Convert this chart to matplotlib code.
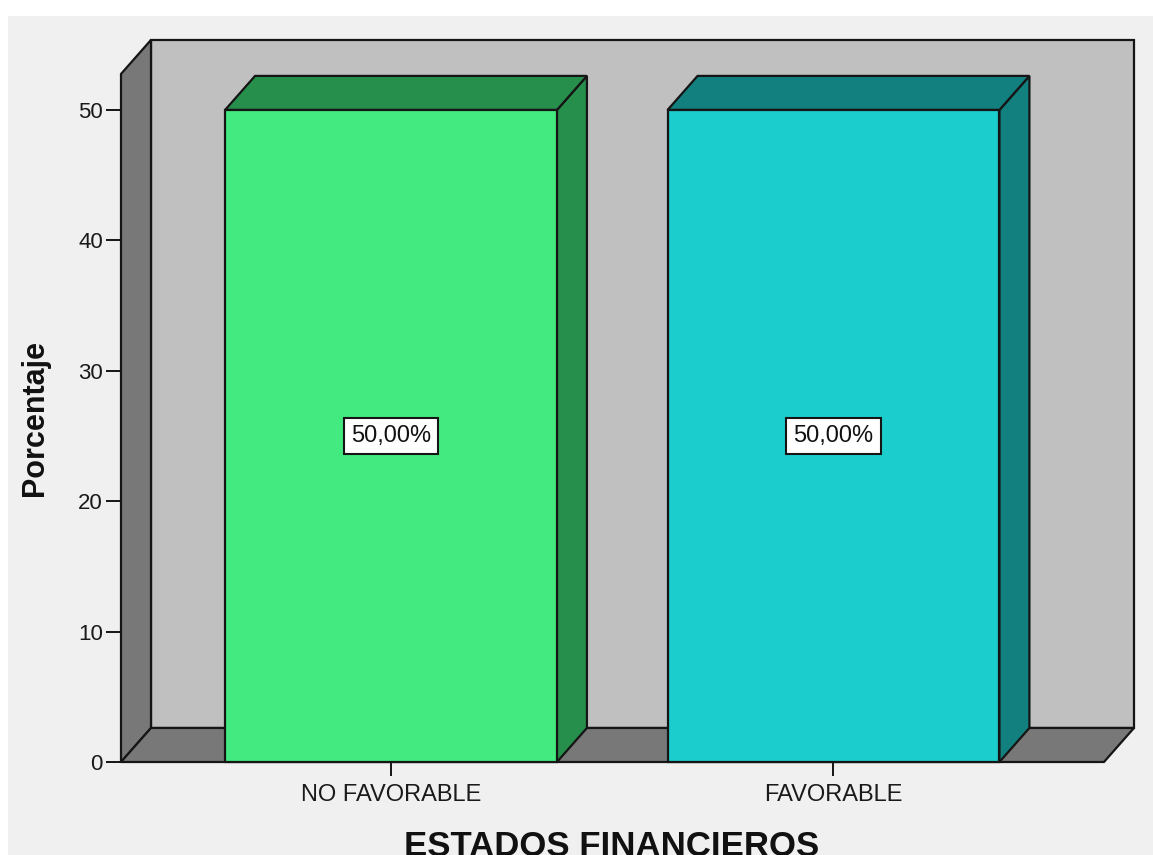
import matplotlib
matplotlib.use("Agg")
import matplotlib.pyplot as plt
from matplotlib.patches import Polygon, Rectangle

# ---- data ----
categories = ["NO FAVORABLE", "FAVORABLE"]
percentages = [50.0, 50.0]
value_labels = ["50,00%", "50,00%"]
yticks = [0, 10, 20, 30, 40, 50]
front_colors = ["#42ea7f", "#1ccdcd"]
dark_colors = ["#268f4c", "#138080"]
xlabel = "ESTADOS FINANCIEROS"
ylabel = "Porcentaje"

plt.rcParams["font.family"] = ["Liberation Sans", "DejaVu Sans"]

W, H = 1153, 855
fig = plt.figure(figsize=(W / 100, H / 100), dpi=100, facecolor="white")
# light gray panel background
fig.patches.append(Rectangle((8 / W, 0), 1 - 8 / W, 1 - 16 / H, transform=fig.transFigure,
                             facecolor="#f0f0f0", edgecolor="none", zorder=-10))

ax = fig.add_axes([121 / W, (H - 762) / H, (1140 - 121) / W, (762 - 36) / H])
ax.set_zorder(5)
ax.set_facecolor("none")
for s in ax.spines.values():
    s.set_visible(False)

xl, xr = -0.6102, 1.6113
ax.set_xlim(xl, 1.6927)
ax.set_ylim(0, 55.67)
dx, dy = 30 / 442.5, 2.61
ytop = 55.37
bw = 0.75
ec = "#151515"
lw = 1.6

# back wall
ax.add_patch(Rectangle((xl + dx, dy), xr - xl, ytop - dy, facecolor="#c0c0c0",
                       edgecolor=ec, lw=lw, clip_on=False, zorder=1))
# left wall
ax.add_patch(Polygon([(xl, 0), (xl + dx, dy), (xl + dx, ytop), (xl, ytop - dy)],
                     closed=True, facecolor="#787878", edgecolor=ec, lw=lw, clip_on=False, zorder=2))
# floor
ax.add_patch(Polygon([(xl, 0), (xr, 0), (xr + dx, dy), (xl + dx, dy)],
                     closed=True, facecolor="#787878", edgecolor=ec, lw=lw, clip_on=False, zorder=2))

xs = list(range(len(categories)))
for x, v, fc, dc, lab in zip(xs, percentages, front_colors, dark_colors, value_labels):
    l, r = x - bw / 2, x + bw / 2
    ax.add_patch(Polygon([(r, 0), (r + dx, dy), (r + dx, v + dy), (r, v)], closed=True,
                         facecolor=dc, edgecolor=ec, lw=lw, clip_on=False, zorder=3))
    ax.add_patch(Polygon([(l, v), (r, v), (r + dx, v + dy), (l + dx, v + dy)], closed=True,
                         facecolor=dc, edgecolor=ec, lw=lw, clip_on=False, zorder=3))
    ax.add_patch(Rectangle((l, 0), bw, v, facecolor=fc, edgecolor=ec, lw=lw,
                           clip_on=False, zorder=4))
    ax.text(x, v / 2, lab, ha="center", va="center", fontsize=17, color="#111111", zorder=6,
            bbox=dict(boxstyle="square,pad=0.3", facecolor="white", edgecolor=ec, lw=1.5))

ax.set_yticks(yticks)
ax.set_yticklabels([str(t) for t in yticks], fontsize=16, color="#1a1a1a")
ax.set_xticks(xs)
ax.set_xticklabels(categories, fontsize=17, color="#1a1a1a")
ax.tick_params(axis="y", length=11, width=1.4, pad=2, color=ec)
ax.tick_params(axis="x", length=10, width=1.4, pad=6, color=ec)

fig.text(35 / W, 1 - 418 / H, ylabel, rotation=90, ha="center", va="center",
         fontsize=22, fontweight="bold", color="#111111")
fig.text(612 / W, (H - 856) / H, xlabel, ha="center", va="baseline",
         fontsize=25, fontweight="bold", color="#111111")

fig.savefig("out.png", dpi=100, facecolor="white")
